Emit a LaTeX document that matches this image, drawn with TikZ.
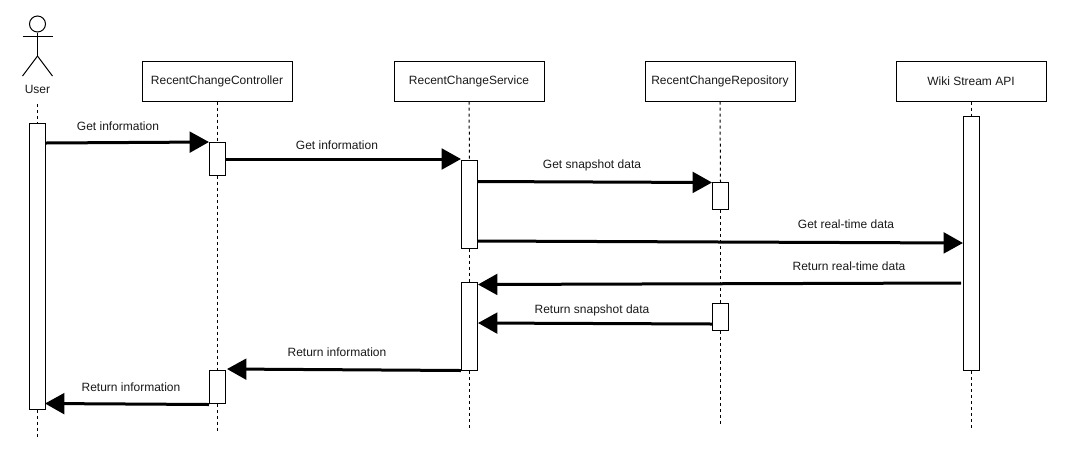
\documentclass[tikz,border=0pt]{standalone}
\usepackage{fontspec}
\setmainfont{Liberation Sans}
\usetikzlibrary{arrows.meta}
\tikzstyle{party}=[draw,line width=0.75pt,minimum width=112.5pt,minimum height=30pt,inner sep=0pt,font=\fontsize{9}{11}\selectfont,text=black!90]
\tikzstyle{act}=[draw,fill=white,line width=0.75pt,minimum width=12pt,inner sep=0pt]
\tikzstyle{lifeline}=[line width=0.75pt,dash pattern=on 2.25pt off 2.25pt]
\tikzstyle{msg}=[line width=2.25pt,-{Triangle[length=14.5pt,width=15.5pt]}]
\tikzstyle{msglabel}=[inner sep=0pt,font=\fontsize{9}{11}\selectfont,text=black!90]
\tikzstyle{stick}=[line width=0.75pt]
\newcommand{\drawedges}[2][\empty]{
	\foreach \a/\b in {#2}{
		\draw[#1] (\a) -- (\b);
	}
}

\begin{document}
\begin{tikzpicture}[x=0.75pt,y=-0.75pt]
\useasboundingbox (0,0) rectangle (1072,462);

% user figure
\node[circle,draw,stick,minimum size=12pt,inner sep=0pt] (head) at (37.5,24) {};
\coordinate (neck) at (37.5,56);
\coordinate (armL) at (22.5,36);
\coordinate (armR) at (53,36);
\coordinate (legL) at (22.5,76);
\coordinate (legR) at (52.5,76);
\node[msglabel] (user) at (37.5,89.5) {User};
\drawedges[stick]{head.south/neck,armL/armR,neck/legL,neck/legR}

% parties
\node[party] (ctrl) at (217,81) {RecentChangeController};
\node[party] (serv) at (469,81) {RecentChangeService};
\node[party] (repo) at (720,81) {RecentChangeRepository};
\node[party] (wiki) at (971,81) {Wiki Stream API};

% activations
\node[act,minimum height=214.5pt] (au) at (37.5,266.3) {};
\node[act,minimum height=24.75pt] (ac1) at (217,158.8) {};
\node[act,minimum height=24.75pt] (ac2) at (217,386.8) {};
\node[act,minimum height=66pt] (as1) at (469.5,204.2) {};
\node[act,minimum height=66pt] (as2) at (469.5,326.3) {};
\node[act,minimum height=20.25pt] (ar1) at (720.5,195.8) {};
\node[act,minimum height=20.25pt] (ar2) at (720.5,316.8) {};
\node[act,minimum height=191pt] (aw) at (971,243.5) {};

% lifelines
\coordinate (topu) at (37.5,104);
\coordinate (endu) at (37.5,437);
\coordinate (endc) at (217,433);
\coordinate (ends) at (469.5,430);
\coordinate (endr) at (720.5,424);
\coordinate (endw) at (971,428);
\drawedges[lifeline]{topu/au.north,au.south/endu}
\drawedges[lifeline]{ctrl.south/ac1.north,ac1.south/ac2.north,ac2.south/endc}
\drawedges[lifeline]{serv.south/as1.north,as1.south/as2.north,as2.south/ends}
\drawedges[lifeline]{repo.south/ar1.north,ar1.south/ar2.north,ar2.south/endr}
\drawedges[lifeline]{wiki.south/aw.north,aw.south/endw}

% messages
\coordinate (m1a) at (45.5,143);
\coordinate (m1b) at (209,142);
\coordinate (m2a) at (225.5,159);
\coordinate (m2b) at (461,159);
\coordinate (m3a) at (477.5,181.5);
\coordinate (m3b) at (712,182.5);
\coordinate (m4a) at (477.5,241);
\coordinate (m4b) at (963,243);
\coordinate (m5a) at (961,283);
\coordinate (m5b) at (478,284.5);
\coordinate (m6a) at (712,324);
\coordinate (m6b) at (478,323);
\coordinate (m7a) at (461,370.5);
\coordinate (m7b) at (227,369);
\coordinate (m8a) at (209,404.5);
\coordinate (m8b) at (45,403.5);
\drawedges[msg]{m1a/m1b,m2a/m2b,m3a/m3b,m4a/m4b,m5a/m5b,m6a/m6b,m7a/m7b,m8a/m8b}

\node[msglabel] (l1) at (118,126) {Get information};
\node[msglabel] (l2) at (337,145) {Get information};
\node[msglabel] (l3) at (592,165) {Get snapshot data};
\node[msglabel] (l4) at (846,224) {Get real-time data};
\node[msglabel] (l5) at (849,266) {Return real-time data};
\node[msglabel] (l6) at (592,310) {Return snapshot data};
\node[msglabel] (l7) at (337,352) {Return information};
\node[msglabel] (l8) at (131,387) {Return information};
\end{tikzpicture}
\end{document}
